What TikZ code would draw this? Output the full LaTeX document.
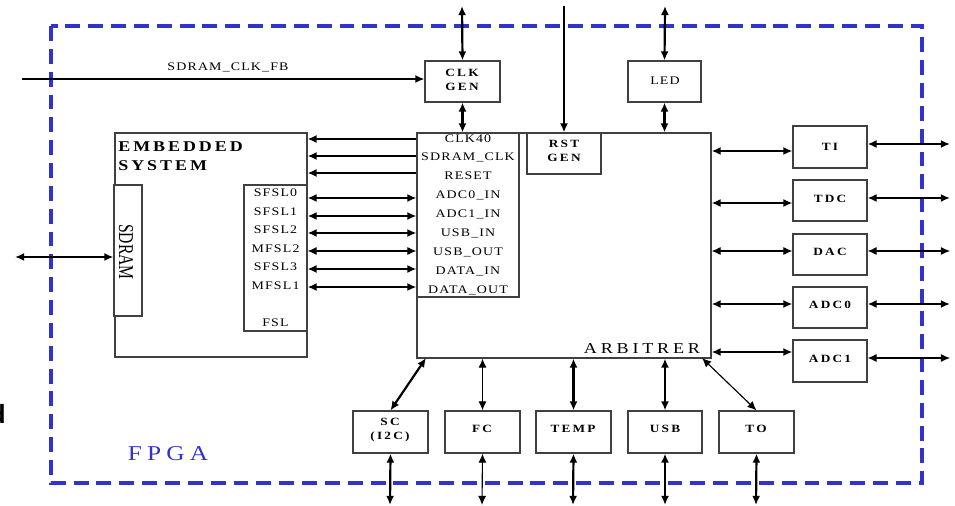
\documentclass[tikz,border=0pt]{standalone}
\usepackage{fontspec}
\setmainfont{Liberation Serif}
\newfontfamily\lblf[FakeStretch=1.2, LetterSpace=10]{Liberation Serif}
\newfontfamily\bldf[FakeStretch=1.2, LetterSpace=20]{Liberation Serif}
\newfontfamily\embf[FakeStretch=1.2, LetterSpace=20]{Liberation Serif}
\newfontfamily\arbf[FakeStretch=1.2, LetterSpace=25]{Liberation Serif}
\newfontfamily\fragf{Liberation Sans}
\usetikzlibrary{arrows.meta,fit}
\definecolor{fpgablue}{RGB}{50,50,205}
\tikzset{
  box/.style={draw=black!75, line width=0.65pt, inner sep=0pt, fill=white},
  lbl/.style={font=\lblf\fontsize{6.6}{7}\selectfont, inner sep=0pt},
  blbl/.style={font=\bldf\bfseries\fontsize{6.3}{8}\selectfont, inner sep=0pt, align=center},
  tip/.tip={Latex[length=5.2pt,width=4.6pt]},
  arr/.style={line width=1.25pt, -tip},
  darr/.style={line width=1.25pt, tip-tip},
  tarr/.style={line width=0.65pt, -tip},
  tdarr/.style={line width=0.65pt, tip-tip},
}
\newcommand\bx[6]{\node[box, fit={(#2,#3) (#4,#5)}] (#1) {#6};}
\begin{document}
\begin{tikzpicture}[x=0.02cm,y=-0.02cm]
\useasboundingbox (0,0) rectangle (955,506);
% FPGA boundary
\draw[fpgablue, line width=2pt, dash pattern=on 8.5pt off 4.5pt] (51,26) rectangle (922,483);
\node[text=fpgablue, font=\arbf\fontsize{12}{12}\selectfont, inner sep=0pt] (fpga) at (168,454) {FPGA};
% fragment at left edge
\node[font=\fragf\bfseries\fontsize{15}{15}\selectfont, anchor=east, inner sep=0pt] (frag) at (6,414) {d};

% top boxes
\bx{clk}{425}{61}{500}{102}{}
\node[blbl] (clkt) at (462,80) {CLK\\GEN};
\bx{led}{628}{61}{701}{102}{}
\node[lbl] (ledt) at (665,81) {LED};

% embedded system
\bx{emb}{115}{133}{307}{357}{}
\node[font=\embf\bfseries\fontsize{8.5}{11}\selectfont, inner sep=0pt, anchor=north west, align=left] (embt) at (118,141) {EMBEDDED\\SYSTEM};
\bx{sdram}{114}{185}{142}{316}{}
\node[font=\fontsize{12}{12}\selectfont, rotate=-90, xscale=0.74, inner sep=0pt] (sdramt) at (126,252) {SDRAM};
\bx{fsl}{244}{185}{307}{331}{}
\node[lbl] (f0) at (275.5,193) {SFSL0};
\node[lbl] (f1) at (275.5,212) {SFSL1};
\node[lbl] (f2) at (275.5,230) {SFSL2};
\node[lbl] (f3) at (275.5,249) {MFSL2};
\node[lbl] (f4) at (275.5,267) {SFSL3};
\node[lbl] (f5) at (275.5,286) {MFSL1};
\node[lbl] (f6) at (275.5,323) {FSL};

% arbitrer
\bx{arb}{417}{133}{711}{358}{}
\node[font=\arbf\fontsize{8.6}{9}\selectfont, inner sep=0pt] (arbt) at (642,349) {ARBITRER};
\bx{port}{417}{133}{519}{297}{}
\node[lbl] (p0) at (468,139) {CLK40};
\node[lbl] (p1) at (468,157) {SDRAM\_CLK};
\node[lbl] (p2) at (468,176) {RESET};
\node[lbl] (p3) at (468,195) {ADC0\_IN};
\node[lbl] (p4) at (468,214) {ADC1\_IN};
\node[lbl] (p5) at (468,233) {USB\_IN};
\node[lbl] (p6) at (468,252) {USB\_OUT};
\node[lbl] (p7) at (468,271) {DATA\_IN};
\node[lbl] (p8) at (468,290) {DATA\_OUT};
\bx{rst}{527}{133}{601}{174}{}
\node[blbl] (rstt) at (564,151) {RST\\GEN};

% right boxes
\bx{ti}{793}{126}{867}{168}{}
\node[blbl] (tit) at (830,147) {TI};
\bx{tdc}{793}{180}{867}{221}{}
\node[blbl] (tdct) at (830,199) {TDC};
\bx{dac}{793}{234}{867}{275}{}
\node[blbl] (dact) at (830,252) {DAC};
\bx{adcz}{793}{287}{867}{328}{}
\node[blbl] (adczt) at (830,305) {ADC0};
\bx{adco}{793}{340}{867}{382}{}
\node[blbl] (adcot) at (830,359) {ADC1};

% bottom boxes
\bx{sc}{353}{411}{428}{453}{}
\node[blbl] (sct) at (390,430) {SC\\(I2C)};
\bx{fc}{445}{411}{520}{453}{}
\node[blbl] (fct) at (482,429) {FC};
\bx{temp}{536}{411}{611}{453}{}
\node[blbl] (tempt) at (573,429) {TEMP};
\bx{usb}{628}{411}{702}{453}{}
\node[blbl] (usbt) at (665,429) {USB};
\bx{to}{719}{411}{794}{453}{}
\node[blbl] (tot) at (756,429) {TO};

% outer free ends
\coordinate (fbin) at (22,79);
\coordinate (clkup) at (462,6);
\coordinate (rstin) at (564,6);
\coordinate (ledup) at (665,6);
\coordinate (sdout) at (15,257);

% top connections
\draw[tarr, line width=0.9pt] (fbin) -- (clk.west |- fbin);
\node[lbl] (fbt) at (228,67) {SDRAM\_CLK\_FB};
\draw[darr] (clkup) -- (clk.north);
\draw[darr] (clk.south) -- (arb.north -| clk.south);
\draw[arr] (rstin) -- (arb.north -| rstin);
\draw[darr] (ledup) -- (led.north);
\draw[darr] (led.south) -- (arb.north -| led.south);

% port <-> embedded
\draw[arr] (port.west |- 0,139) -- (emb.east |- 0,139);
\draw[arr] (port.west |- 0,156) -- (emb.east |- 0,156);
\draw[arr] (port.west |- 0,173) -- (emb.east |- 0,173);
\draw[darr] (fsl.east |- 0,198) -- (port.west |- 0,198);
\draw[darr] (fsl.east |- 0,216) -- (port.west |- 0,216);
\draw[darr] (fsl.east |- 0,233) -- (port.west |- 0,233);
\draw[tdarr] (fsl.east |- 0,251) -- (port.west |- 0,251);
\draw[darr] (fsl.east |- 0,269) -- (port.west |- 0,269);
\draw[darr] (fsl.east |- 0,287) -- (port.west |- 0,287);
\draw[darr] (sdout) -- (sdram.west |- sdout);

% arbitrer <-> right boxes
\draw[darr] (arb.east |- 0,151) -- (ti.west |- 0,151);
\draw[darr] (arb.east |- 0,203) -- (tdc.west |- 0,203);
\draw[tdarr] (arb.east |- 0,251) -- (dac.west |- 0,251);
\draw[darr] (arb.east |- 0,304) -- (adcz.west |- 0,304);
\draw[darr] (arb.east |- 0,352) -- (adco.west |- 0,352);
\coordinate (o1) at (950,144);
\coordinate (o2) at (950,198);
\coordinate (o3) at (950,251);
\coordinate (o4) at (950,304);
\coordinate (o5) at (950,358);
\draw[darr] (ti.east |- o1) -- (o1);
\draw[darr] (tdc.east |- o2) -- (o2);
\draw[tdarr] (dac.east |- o3) -- (o3);
\draw[darr] (adcz.east |- o4) -- (o4);
\draw[tdarr] (adco.east |- o5) -- (o5);

% arbitrer <-> bottom boxes
\coordinate (a1) at (426,358);
\coordinate (a5) at (702,358);
\draw[darr] (a1) -- (sc.north);
\draw[tdarr] (arb.south -| fc.north) -- (fc.north);
\draw[darr] (arb.south -| temp.north) -- (temp.north);
\draw[darr] (arb.south -| usb.north) -- (usb.north);
\draw[tdarr] (a5) -- (to.north);
\coordinate (b1) at (390,505);
\coordinate (b2) at (482,505);
\coordinate (b3) at (573,505);
\coordinate (b4) at (665,505);
\coordinate (b5) at (756,505);
\draw[darr] (sc.south) -- (b1);
\draw[tdarr] (fc.south) -- (b2);
\draw[darr] (temp.south) -- (b3);
\draw[darr] (usb.south) -- (b4);
\draw[darr] (to.south) -- (b5);
\end{tikzpicture}
\end{document}
